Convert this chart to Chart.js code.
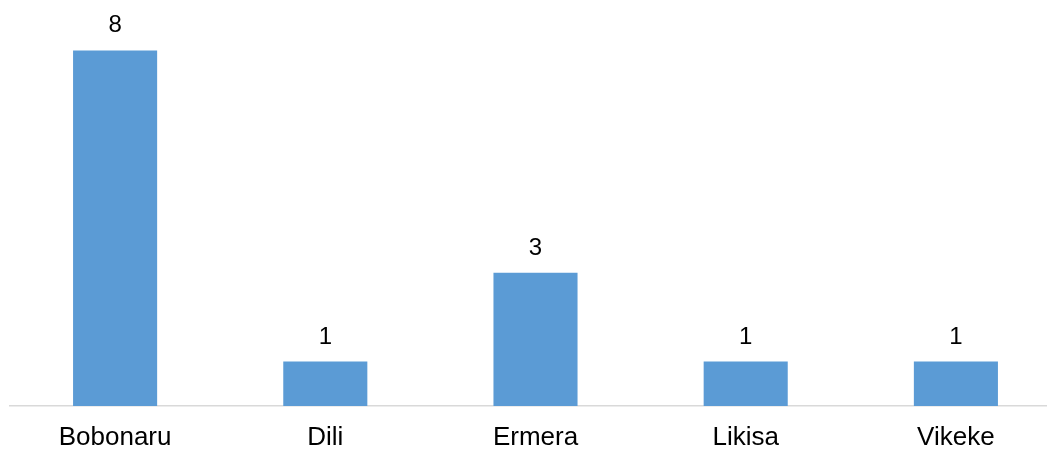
<!DOCTYPE html>
<html>
<head>
<meta charset="utf-8">
<script src="https://cdn.jsdelivr.net/npm/chart.js@4"></script>
<style>
  html, body { margin: 0; padding: 0; background: #fff; overflow: hidden; }
  #wrap { width: 1061px; height: 449px; position: relative; }
</style>
</head>
<body>
<div id="wrap"><canvas id="c"></canvas></div>
<script>
const categories = ["Bobonaru", "Dili", "Ermera", "Likisa", "Vikeke"];
const values = [8, 1, 3, 1, 1];
const yTicks = { min: 0, max: 9 };

const valueLabels = {
  id: 'valueLabels',
  afterDatasetsDraw(chart) {
    const ctx = chart.ctx;
    const meta = chart.getDatasetMeta(0);
    ctx.save();
    ctx.font = '24px "Liberation Sans", Arial, sans-serif';
    ctx.fillStyle = '#000';
    ctx.textAlign = 'center';
    ctx.textBaseline = 'alphabetic';
    meta.data.forEach((bar, i) => {
      ctx.fillText(String(values[i]), bar.x, bar.y - 18);
    });
    ctx.restore();
  }
};

new Chart(document.getElementById('c'), {
  type: 'bar',
  data: {
    labels: categories,
    datasets: [{
      data: values,
      backgroundColor: '#5B9BD5',
      borderWidth: 0,
      categoryPercentage: 1.0,
      barPercentage: 0.4
    }]
  },
  options: {
    responsive: true,
    maintainAspectRatio: false,
    animation: false,
    devicePixelRatio: 1,
    layout: { padding: { left: 10, right: 0, top: 6, bottom: 0 } },
    plugins: { legend: { display: false }, tooltip: { enabled: false } },
    scales: {
      x: {
        grid: { display: false, drawTicks: false },
        border: { display: true, color: '#d9d9d9', width: 1.5 },
        afterFit(scale) { scale.height = 43; },
        ticks: {
          color: '#000',
          padding: 16,
          maxRotation: 0,
          font: { family: '"Liberation Sans", Arial, sans-serif', size: 26 }
        }
      },
      y: {
        display: false,
        min: yTicks.min,
        max: yTicks.max
      }
    }
  },
  plugins: [valueLabels]
});
</script>
</body>
</html>
